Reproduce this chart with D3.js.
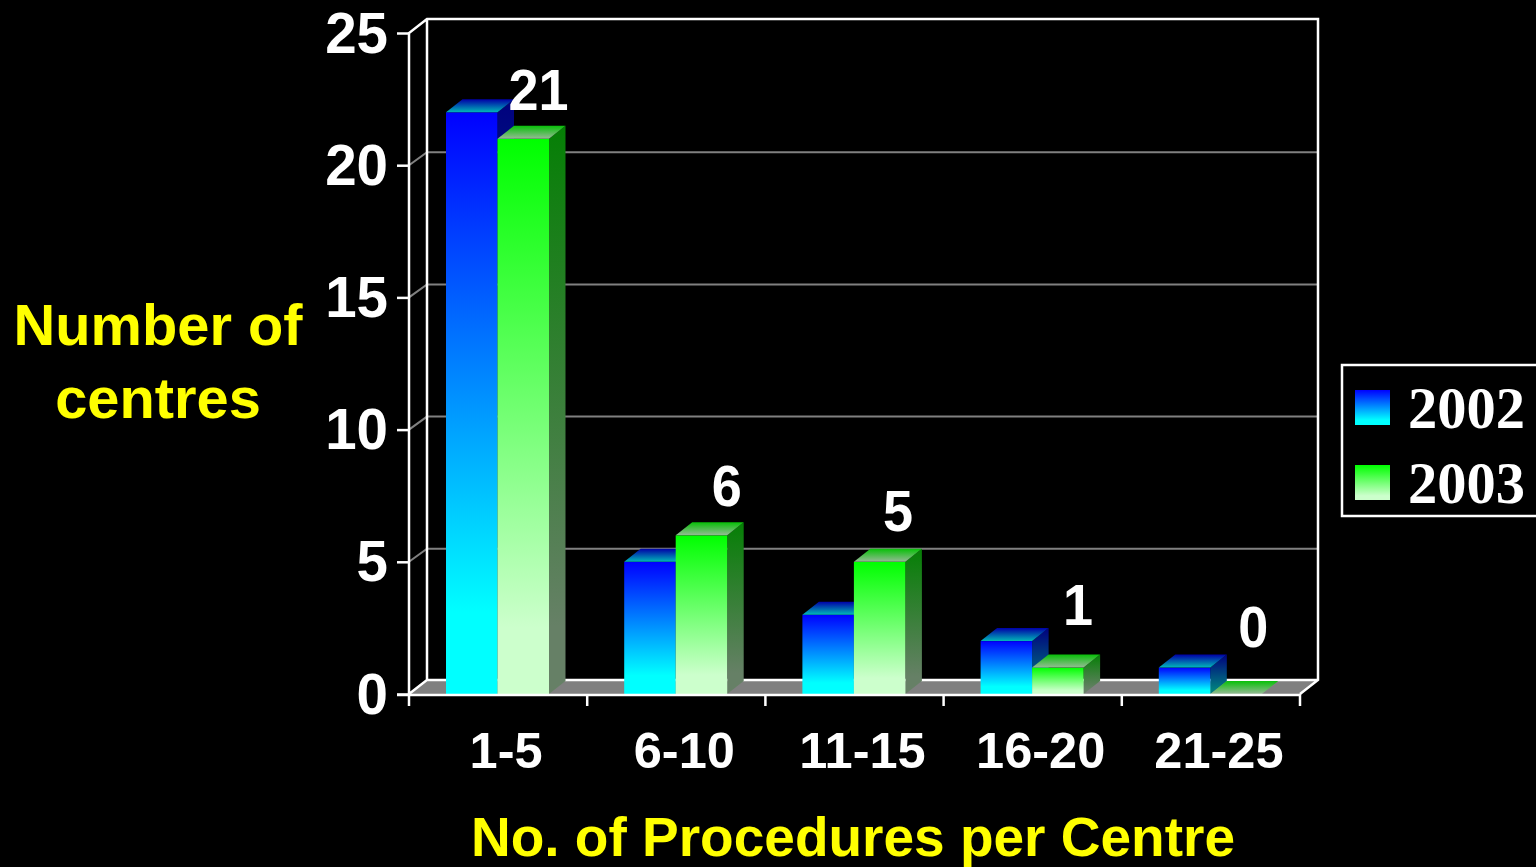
<!DOCTYPE html>
<html><head><meta charset="utf-8">
<script src="https://cdn.jsdelivr.net/npm/d3@7"></script>
<style>html,body{margin:0;background:#000;overflow:hidden}svg{display:block}</style></head>
<body><svg id="c" width="1536" height="867"></svg>
<script>
const categories = ["1-5","6-10","11-15","16-20","21-25"];
const seriesNames = ["2002","2003"];
const values2002 = [22,5,3,2,1];
const values2003 = [21,6,5,1,0];
const labels = [21,6,5,1,0];
const yTicks = [0,5,10,15,20,25];

const svg = d3.select("#c");
const W = {l:409,r:1300,b:694,t:33}, depth = {x:18,y:-14}, barDepth = {x:16.5,y:-13};
const x0 = d3.scaleBand().domain(categories).range([W.l,W.r]);
const x1 = d3.scaleBand().domain(seriesNames).range([37,140]);
const y = d3.scaleLinear().domain([0,25]).range([W.b,W.t]);
const sans = "'Liberation Sans',Arial,sans-serif", serif = "'Liberation Serif','Times New Roman',serif";

const defs = svg.append("defs");
function grad(id, c1, c2, end){
  const g = defs.append("linearGradient").attr("id",id).attr("x1",0).attr("y1",0).attr("x2",0).attr("y2",1);
  g.append("stop").attr("offset",0).attr("stop-color",c1);
  g.append("stop").attr("offset",end).attr("stop-color",c2);
}
grad("f0","#0000ff","#00ffff",0.86); grad("f1","#00ff00","#ccffcc",0.88);
grad("s0","#00007f","#007f7f",0.88); grad("s1","#057f05","#668066",0.88);
grad("t0","#0000a8","#00b8b8",1); grad("t1","#08c008","#96ba96",1);

// floor
const bx = W.l+depth.x, bxr = W.r+depth.x, by = W.b+depth.y, bt = W.t+depth.y;
svg.append("polygon").attr("points",[[W.l,W.b],[bx,by],[bxr,by],[W.r,W.b]].join(" ")).attr("fill","#808080");
// gridlines
const g = yTicks.filter(d=>d>0&&d<25);
svg.selectAll(".gr").data(g).join("path").attr("fill","none").attr("stroke","#808080").attr("stroke-width",2)
  .attr("d",d=>`M${W.l},${y(d)}L${bx},${y(d)+depth.y+1}L${bxr},${y(d)+depth.y+1}`);
// walls
svg.append("path").attr("fill","none").attr("stroke","#fff").attr("stroke-width",2.5)
  .attr("d",`M${W.l},${W.b}L${W.l},${W.t}L${bx},${bt}L${bxr},${bt}L${bxr},${by}L${W.r},${W.b}M${bx},${bt}L${bx},${by}L${W.l},${W.b}M${bx},${by}L${bxr},${by}`);
// axes
const yAxis = svg.append("g").attr("transform",`translate(${W.l},0)`).call(d3.axisLeft(y).tickValues(yTicks).tickSize(12).tickPadding(9).tickFormat(d3.format("d")));
const xAxis = svg.append("g").attr("transform",`translate(8,${W.b})`).call(d3.axisBottom(x0).tickSize(0).tickPadding(74));
yAxis.select(".domain").remove(); xAxis.select(".domain").remove();
yAxis.selectAll("line").attr("stroke","#fff").attr("stroke-width",2.5);
svg.selectAll(".xt").data(d3.range(categories.length+1)).join("line")
  .attr("x1",i=>W.l+x0.step()*i).attr("x2",i=>W.l+x0.step()*i).attr("y1",W.b).attr("y2",W.b+12).attr("stroke","#fff").attr("stroke-width",2.5);
yAxis.selectAll("text").attr("fill","#fff").attr("font-family",sans).attr("font-weight",700).attr("font-size",56.5).attr("dy",0).attr("y",19);
xAxis.selectAll("text").attr("fill","#fff").attr("font-family",sans).attr("font-weight",700).attr("font-size",50.5).attr("dy",0);

// bars
const rows = seriesNames.map((s,i)=>({s,i,vals:i?values2003:values2002}));
rows.forEach(r=>{
  categories.forEach((c,k)=>{
    const v=r.vals[k], xa=x0(c)+x1(r.s), w=x1.bandwidth(), yt=y(v), yb=y(0), dx=barDepth.x, dy=barDepth.y;
    const gb=svg.append("g");
    if(v>0){
      gb.append("polygon").attr("points",[[xa+w,yt],[xa+w+dx,yt+dy],[xa+w+dx,yb+dy],[xa+w,yb]].join(" ")).attr("fill",`url(#s${r.i})`);
      gb.append("rect").attr("x",xa).attr("y",yt).attr("width",w).attr("height",yb-yt).attr("fill",`url(#f${r.i})`);
    }
    gb.append("polygon").attr("points",[[xa,yt],[xa+dx,yt+dy],[xa+w+dx,yt+dy],[xa+w,yt]].join(" ")).attr("fill",`url(#t${r.i})`);
  });
});
svg.append("line").attr("x1",W.l-12).attr("x2",W.r).attr("y1",W.b+1).attr("y2",W.b+1).attr("stroke","#fff").attr("stroke-width",2.5);
// value labels
const nudge=[41,51,44,46,43], lift=[29,29.4,31,42.6,47];
svg.selectAll(".vl").data(labels).join("text").attr("class","vl")
  .attr("transform",(d,i)=>`translate(${x0(categories[i])+x1("2003")+nudge[i]},${y(values2003[i])-lift[i]}) scale(1,1.07)`)
  .attr("text-anchor","middle").attr("fill","#fff").attr("font-family",sans).attr("font-weight",700).attr("font-size",54).text(d=>d);
// titles
const ytitle=svg.append("text").attr("text-anchor","middle").attr("fill","#ffff00").attr("font-family",sans).attr("font-weight",700).attr("font-size",57.8);
ytitle.append("tspan").attr("x",158).attr("y",345).text("Number of");
ytitle.append("tspan").attr("x",158).attr("y",418).text("centres");
svg.append("text").attr("x",853).attr("y",856).attr("text-anchor","middle").attr("fill","#ffff00").attr("font-family",sans).attr("font-weight",700).attr("font-size",55).text("No. of Procedures per Centre");
// legend
svg.append("rect").attr("x",1342).attr("y",365).attr("width",200).attr("height",151).attr("fill","#000").attr("stroke","#fff").attr("stroke-width",2.5);
seriesNames.forEach((s,i)=>{
  const ly=390+i*75;
  svg.append("rect").attr("x",1355).attr("y",ly).attr("width",35).attr("height",35).attr("fill",`url(#f${i})`);
  svg.append("text").attr("x",1408).attr("y",ly+37.5).attr("fill","#fff").attr("font-family",serif).attr("font-weight",700).attr("font-size",58.5).text(s);
});
</script></body></html>
